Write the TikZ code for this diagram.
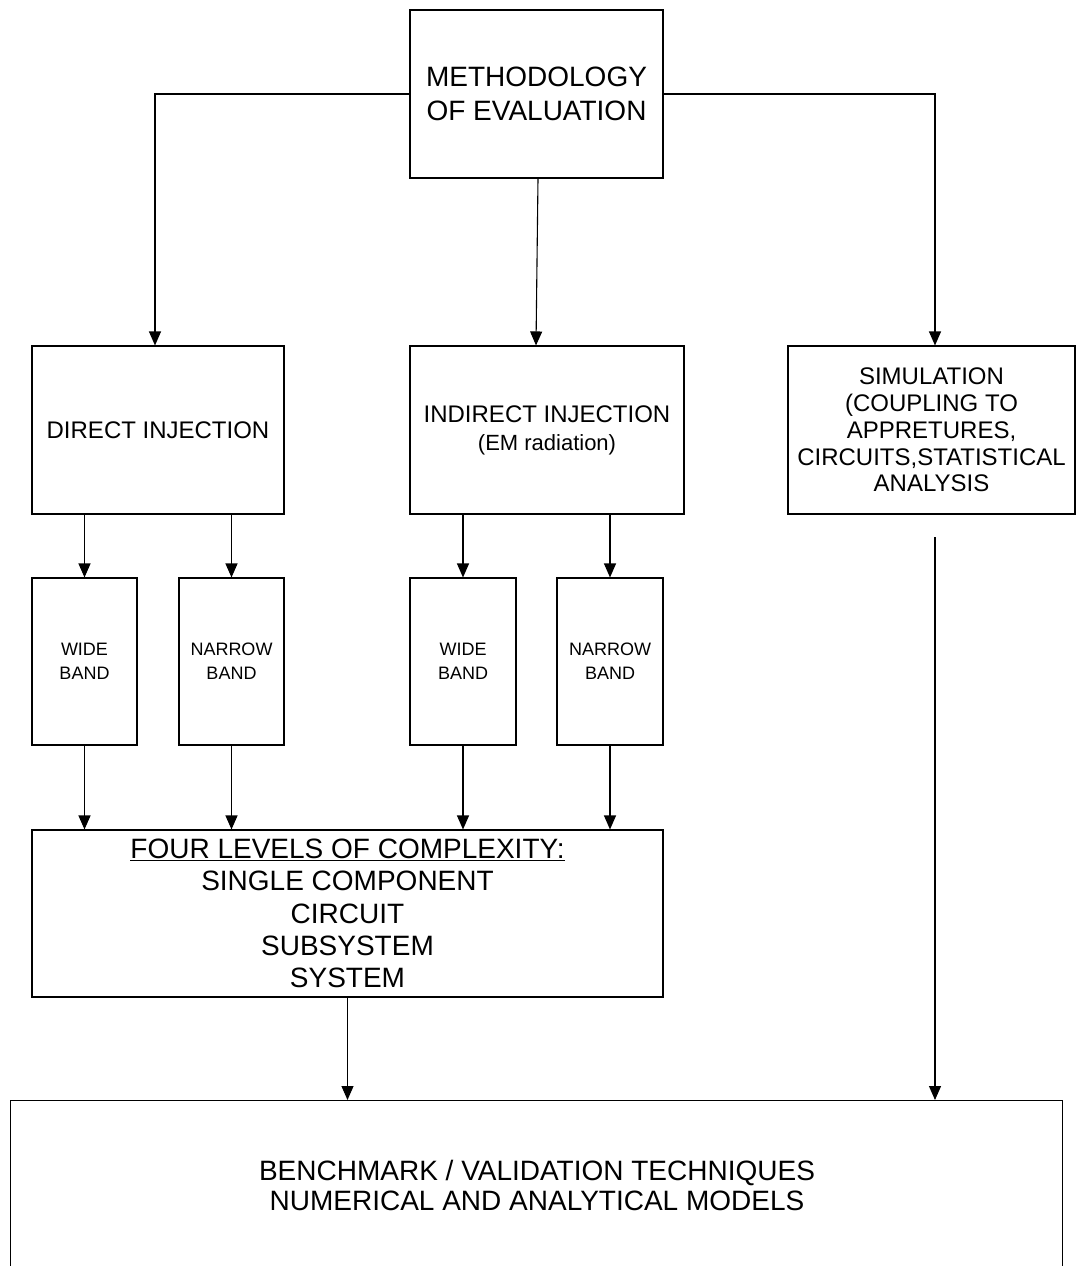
\documentclass[tikz,border=0pt]{standalone}
\usepackage{fontspec}
\setmainfont{Liberation Sans}
\usetikzlibrary{arrows.meta}
\begin{document}
\begin{tikzpicture}[x=1pt,y=-1pt,
  box/.style={draw=black,line width=1.1pt,rectangle,inner sep=0pt,align=center},
  arr/.style={draw=black,line width=1.1pt,-{Triangle[width=12pt,length=14pt]}},
  big/.style={font=\fontsize{28}{34}\selectfont},
  mid/.style={font=\fontsize{24}{26.8}\selectfont},
  sml/.style={font=\fontsize{18}{24}\selectfont}]
\clip (0,0) rectangle (1076,1266);
\fill[white] (0,0) rectangle (1076,1266);
\node[box,big,minimum width=253pt,minimum height=168pt] (top) at (536.5,94) {METHODOLOGY\\OF EVALUATION};
\node[box,mid,minimum width=252pt,minimum height=168pt] (direct) at (158,430) {DIRECT INJECTION};
\node[box,font=\fontsize{24}{28}\selectfont,minimum width=274pt,minimum height=168pt] (indirect) at (547,430) {INDIRECT INJECTION\\{\fontsize{22}{28}\selectfont (EM radiation)}};
\node[box,mid,minimum width=287pt,minimum height=168pt] (sim) at (931.5,430) {SIMULATION\\(COUPLING TO\\APPRETURES,\\CIRCUITS,STATISTICAL\\ANALYSIS};
\node[box,sml,minimum width=105pt,minimum height=167pt] (wb1) at (84.5,661.5) {WIDE\\BAND};
\node[box,sml,minimum width=105pt,minimum height=167pt] (nb1) at (231.5,661.5) {NARROW\\BAND};
\node[box,sml,minimum width=106pt,minimum height=167pt] (wb2) at (463,661.5) {WIDE\\BAND};
\node[box,sml,minimum width=106pt,minimum height=167pt] (nb2) at (610,661.5) {NARROW\\BAND};
\node[box,font=\fontsize{28}{32.2}\selectfont,minimum width=631pt,minimum height=167pt] (four) at (347.5,913.5) {\underline{FOUR LEVELS OF COMPLEXITY:}\\SINGLE COMPONENT\\CIRCUIT\\SUBSYSTEM\\SYSTEM};
\node[box,minimum width=1052pt,minimum height=240pt,anchor=north west] (bottom) at (10,1100) {};
\node[align=center,font=\fontsize{28}{30}\selectfont] (btext) at (537,1185) {BENCHMARK / VALIDATION TECHNIQUES\\NUMERICAL AND ANALYTICAL MODELS};
\coordinate (simstart) at (935,537);
\draw[arr] (top.west) -| ([xshift=-3pt]direct.north);
\draw[arr] (top.east) -| ([xshift=3.5pt]sim.north);
\draw[arr] ([xshift=1.5pt]top.south) -- ([xshift=-11pt]indirect.north);
\draw[arr] (wb1.north |- direct.south) -- (wb1.north);
\draw[arr] (nb1.north |- direct.south) -- (nb1.north);
\draw[arr] (wb2.north |- indirect.south) -- (wb2.north);
\draw[arr] (nb2.north |- indirect.south) -- (nb2.north);
\draw[arr] (wb1.south) -- (wb1.south |- four.north);
\draw[arr] (nb1.south) -- (nb1.south |- four.north);
\draw[arr] (wb2.south) -- (wb2.south |- four.north);
\draw[arr] (nb2.south) -- (nb2.south |- four.north);
\draw[arr] (four.south) -- (four.south |- bottom.north);
\draw[arr] (simstart) -- (simstart |- bottom.north);
\end{tikzpicture}
\end{document}
